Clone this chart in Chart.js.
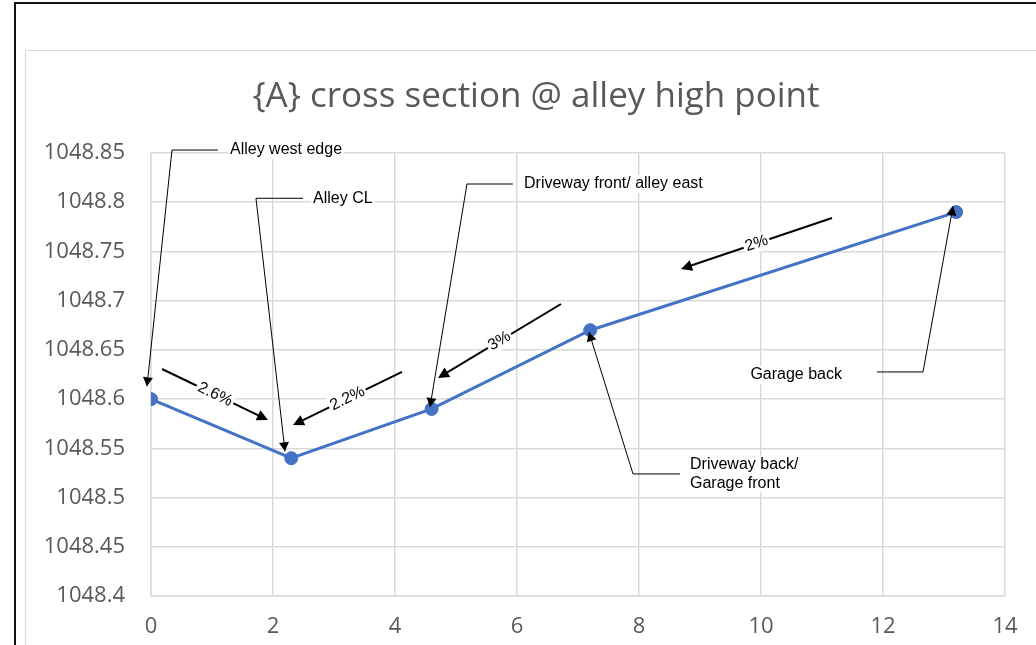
<!DOCTYPE html>
<html><head><meta charset="utf-8">
<script src="https://cdn.jsdelivr.net/npm/chart.js@4.4.1/dist/chart.umd.min.js"></script>
<style>html,body{margin:0;padding:0;background:#fff;overflow:hidden}#wrap{width:1036px;height:645px;position:relative}</style>
</head><body><div id="wrap"><canvas id="c" width="1036" height="645"></canvas></div>
<script>
const titleText = '{A} cross section @ alley high point';
const stations = [0, 2.3, 4.6, 7.2, 13.2];
const elevations = [1048.60, 1048.54, 1048.59, 1048.67, 1048.79];
const yTicks = [1048.4, 1048.45, 1048.5, 1048.55, 1048.6, 1048.65, 1048.7, 1048.75, 1048.8, 1048.85];
const xTicks = [0, 2, 4, 6, 8, 10, 12, 14];

// callout annotations (data coordinates)
const calloutLabels = [['Alley west edge'], ['Alley CL'], ['Driveway front/ alley east'], ['Driveway back/', 'Garage front'], ['Garage back']];
const calloutTips = [[-0.066, 1048.613], [2.197, 1048.547], [4.574, 1048.592], [7.18, 1048.668], [13.148, 1048.796]];
const calloutElbows = [[0.344, 1048.853], [1.721, 1048.804], [5.18, 1048.8185], [7.902, 1048.524], [12.656, 1048.6276]];
const calloutHookEnds = [[1.098, 1048.853], [2.492, 1048.804], [5.934, 1048.8185], [8.672, 1048.524], [11.902, 1048.6276]];
const calloutTextAt = [[1.295, 1048.853], [2.656, 1048.804], [6.115, 1048.8185], [8.836, 1048.524], [11.328, 1048.6245]];
const calloutAlign = ['left', 'left', 'left', 'left', 'right'];

// slope arrows (data coordinates)
const slopeLabels = ['2.6%', '2.2%', '3%', '2%'];
const slopeStarts = [[0.18, 1048.6306], [4.115, 1048.6276], [6.721, 1048.6966], [11.164, 1048.784]];
const slopeEnds = [[1.918, 1048.5788], [2.328, 1048.5737], [4.705, 1048.6215], [8.689, 1048.7322]];

const GREY = '#595959';
const GRID = '#d9d9d9';
const LINE = '#4472C4';
const ANN_FONT = '16px "Liberation Sans", Arial, sans-serif';
const AXIS_FONT = { family: '"Open Sans", sans-serif', size: 22 };

function arrowHead(ctx, sx, sy, tx, ty, len, half) {
  const a = Math.atan2(ty - sy, tx - sx);
  ctx.beginPath();
  ctx.moveTo(tx, ty);
  ctx.lineTo(tx - len * Math.cos(a) + half * Math.sin(a), ty - len * Math.sin(a) - half * Math.cos(a));
  ctx.lineTo(tx - len * Math.cos(a) - half * Math.sin(a), ty - len * Math.sin(a) + half * Math.cos(a));
  ctx.closePath();
  ctx.fill();
}

const framePlugin = {
  id: 'frame',
  beforeDraw(chart) {
    const ctx = chart.ctx;
    ctx.save();
    ctx.fillStyle = '#fff';
    ctx.fillRect(0, 0, chart.width, chart.height);
    ctx.strokeStyle = GRID;
    ctx.lineWidth = 1;
    ctx.beginPath();
    ctx.moveTo(25.5, chart.height);
    ctx.lineTo(25.5, 50.5);
    ctx.lineTo(chart.width, 50.5);
    ctx.stroke();
    ctx.fillStyle = '#111';
    ctx.fillRect(14, 2, 2, chart.height - 2);
    ctx.fillRect(14, 2, chart.width - 14, 2);
    // chart title, centred in the (cropped) chart frame
    ctx.fillStyle = GREY;
    ctx.font = '35px "Open Sans", sans-serif';
    ctx.textAlign = 'center';
    ctx.textBaseline = 'middle';
    ctx.fillText(titleText, 536, 97);
    ctx.restore();
  }
};

const annotPlugin = {
  id: 'annot',
  afterDatasetsDraw(chart) {
    const ctx = chart.ctx;
    const xs = chart.scales.x, ys = chart.scales.y;
    const P = (p) => [xs.getPixelForValue(p[0]), ys.getPixelForValue(p[1])];
    ctx.save();
    ctx.font = ANN_FONT;
    ctx.textBaseline = 'middle';
    for (let i = 0; i < calloutLabels.length; i++) {
      const tip = P(calloutTips[i]), el = P(calloutElbows[i]), hk = P(calloutHookEnds[i]), tx = P(calloutTextAt[i]);
      ctx.strokeStyle = '#000';
      ctx.fillStyle = '#000';
      ctx.lineWidth = 1;
      ctx.beginPath();
      ctx.moveTo(hk[0], hk[1]);
      ctx.lineTo(el[0], el[1]);
      ctx.lineTo(tip[0], tip[1]);
      ctx.stroke();
      arrowHead(ctx, el[0], el[1], tip[0], tip[1], 9, 5);
      const lines = calloutLabels[i];
      const lh = 19;
      ctx.textAlign = calloutAlign[i];
      lines.forEach((t, k) => {
        const y = tx[1] + (k - (lines.length - 1) / 2) * lh;
        const w = ctx.measureText(t).width;
        const left = calloutAlign[i] === 'left' ? tx[0] : tx[0] - w;
        ctx.fillStyle = '#fff';
        ctx.fillRect(left - 2, y - 9, w + 4, 18);
        ctx.fillStyle = '#000';
        ctx.fillText(t, tx[0], y);
      });
    }
    for (let i = 0; i < slopeLabels.length; i++) {
      const s = P(slopeStarts[i]), e = P(slopeEnds[i]);
      ctx.strokeStyle = '#000';
      ctx.fillStyle = '#000';
      ctx.lineWidth = 2;
      const a = Math.atan2(e[1] - s[1], e[0] - s[0]);
      ctx.beginPath();
      ctx.moveTo(s[0], s[1]);
      ctx.lineTo(e[0] - 6 * Math.cos(a), e[1] - 6 * Math.sin(a));
      ctx.stroke();
      arrowHead(ctx, s[0], s[1], e[0], e[1], 11, 5.5);
      let ang = a;
      if (ang > Math.PI / 2) ang -= Math.PI;
      if (ang < -Math.PI / 2) ang += Math.PI;
      const mx = (s[0] + e[0]) / 2, my = (s[1] + e[1]) / 2;
      ctx.save();
      ctx.translate(mx, my);
      ctx.rotate(ang);
      const w = ctx.measureText(slopeLabels[i]).width;
      ctx.fillStyle = '#fff';
      ctx.fillRect(-w / 2 - 2, -9, w + 4, 18);
      ctx.fillStyle = '#000';
      ctx.textAlign = 'center';
      ctx.fillText(slopeLabels[i], 0, 0);
      ctx.restore();
    }
    ctx.restore();
  }
};

new Chart(document.getElementById('c'), {
  type: 'scatter',
  data: {
    datasets: [{
      data: stations.map((x, i) => ({ x: x, y: elevations[i] })),
      showLine: true,
      borderColor: LINE,
      backgroundColor: LINE,
      borderWidth: 3,
      pointRadius: 6.5,
      pointBorderWidth: 1,
      pointBorderColor: LINE,
      pointBackgroundColor: LINE,
      tension: 0
    }]
  },
  options: {
    responsive: false,
    animation: false,
    events: [],
    layout: { padding: { left: 25, right: 31, top: 153, bottom: 0 } },
    plugins: {
      legend: { display: false },
      tooltip: { enabled: false },
      title: { display: false }
    },
    scales: {
      x: {
        type: 'linear',
        min: 0, max: 14,
        afterBuildTicks: (sc) => { sc.ticks = xTicks.map(v => ({ value: v })); },
        afterFit: (sc) => { sc.height = 49; },
        grid: { color: GRID, lineWidth: 1.5, drawTicks: false },
        border: { color: GRID, width: 1.5 },
        ticks: { color: GREY, padding: 18, maxRotation: 0, font: AXIS_FONT, callback: (v) => String(v) }
      },
      y: {
        type: 'linear',
        min: 1048.4, max: 1048.85,
        afterBuildTicks: (sc) => { sc.ticks = yTicks.map(v => ({ value: v })); },
        afterFit: (sc) => { sc.width = 126; },
        grid: { color: GRID, lineWidth: 1.5, drawTicks: false },
        border: { color: GRID, width: 1.5 },
        ticks: { color: GREY, padding: 26, font: AXIS_FONT, callback: (v) => String(Number(Number(v).toFixed(2))) }
      }
    }
  },
  plugins: [framePlugin, annotPlugin]
});
</script>
</body></html>
